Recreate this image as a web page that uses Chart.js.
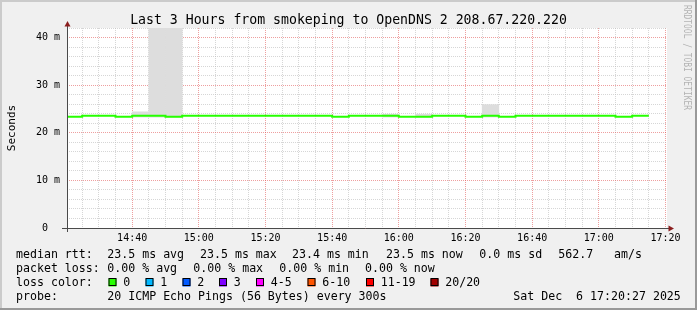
<!DOCTYPE html>
<html><head><meta charset="utf-8">
<script src="https://cdn.jsdelivr.net/npm/chart.js@4.4.1/dist/chart.umd.min.js"></script>
<style>html,body{margin:0;padding:0;background:#f0f0f0;overflow:hidden}canvas{display:block}</style>
</head><body>
<canvas id="c" width="697" height="310"></canvas>
<script>
// ---------- data ----------
const titleText = "Last 3 Hours from smokeping to OpenDNS 2 208.67.220.220";
const yAxisTitle = "Seconds";
const watermark = "RRDTOOL / TOBI OETIKER";
const startTime = "14:20:27";
const endTime = "17:20:27";
const dataEnd = "17:15";
const slotStarts = ["14:20","14:25","14:30","14:35","14:40","14:45","14:50","14:55",
  "15:00","15:05","15:10","15:15","15:20","15:25","15:30","15:35","15:40","15:45","15:50","15:55",
  "16:00","16:05","16:10","16:15","16:20","16:25","16:30","16:35","16:40","16:45","16:50","16:55",
  "17:00","17:05","17:10"];
// median rtt in ms
const medianRtt = [23.38,23.55,23.55,23.38,23.55,23.55,23.38,23.55,
  23.55,23.55,23.55,23.55,23.55,23.55,23.55,23.55,23.38,23.55,23.55,23.55,
  23.38,23.38,23.55,23.55,23.38,23.55,23.38,23.55,23.55,23.55,23.55,23.55,
  23.55,23.38,23.55];
// smoke (min / max ping) in ms, null where not visible
const smokeLow = [null,null,null,null,23.3,23.3,23.3,null,
  null,null,null,null,null,null,null,null,null,null,null,23.3,
  null,23.3,null,null,null,23.3,null,null,null,null,null,null,
  null,null,null];
const smokeHigh = [null,null,null,null,24.4,58,58,null,
  null,null,null,null,null,null,null,null,null,null,null,23.9,
  null,23.9,null,null,null,25.9,null,null,null,null,null,null,
  null,null,null];
const yMax = 42;
const yTicks = [0,10,20,30,40];
const yTickLabels = ["0  ","10 m","20 m","30 m","40 m"];
const xTickLabels = ["14:40","15:00","15:20","15:40","16:00","16:20","16:40","17:00","17:20"];
const statsRttLabel = "median rtt:";
const statsRtt = ["23.5 ms avg","23.5 ms max","23.4 ms min","23.5 ms now","0.0 ms sd","562.7","am/s"];
const statsLossLabel = "packet loss:";
const statsLoss = ["0.00 % avg","0.00 % max","0.00 % min","0.00 % now"];
const lossLabel = "loss color:";
const lossLabels = ["0","1","2","3","4-5","6-10","11-19","20/20"];
const lossColors = ["#26ff00","#00b8ff","#0059ff","#7e00ff","#ff00ff","#ff5500","#ff0000","#a10000"];
const probeLabel = "probe:";
const probeText = "20 ICMP Echo Pings (56 Bytes) every 300s";
const dateText = "Sat Dec  6 17:20:27 2025";

// ---------- helpers ----------
const MONO = '"DejaVu Sans Mono", monospace';
function toSec(s){const p=s.split(':').map(Number);return p[0]*3600+p[1]*60+(p[2]||0);}
const T0 = toSec(startTime);
const rel = s => toSec(s) - T0;
const xMax = rel(endTime);
const STEP = 300;
function fmt(v){const t=Math.round(v+T0);const h=Math.floor(t/3600),m=Math.floor((t%3600)/60);return String(h).padStart(2,'0')+':'+String(m).padStart(2,'0');}
const gridX = [];
for (let t = Math.ceil(T0/STEP)*STEP - T0; t <= xMax; t += STEP) gridX.push(t);
const gridY = [];
for (let v = 0; v <= yMax; v += 2) gridY.push(v);
const MAJ = 'rgba(224,80,80,0.55)';
const MIN = 'rgba(186,186,186,0.6)';

const lineData = slotStarts.map((s,i)=>({x: rel(s), y: medianRtt[i]}));
lineData.push({x: rel(dataEnd), y: medianRtt[medianRtt.length-1]});
const smokeData = [];
slotStarts.forEach((s,i)=>{ if (smokeHigh[i]!=null) smokeData.push({x: rel(s)+STEP/2, y:[smokeLow[i], smokeHigh[i]]}); });

const deco = {
  id: 'deco',
  beforeDraw(chart){
    const ctx = chart.ctx, W = chart.width, H = chart.height, a = chart.chartArea;
    ctx.save();
    ctx.fillStyle = '#f0f0f0'; ctx.fillRect(0,0,W,H);
    ctx.fillStyle = '#cbcbcb'; ctx.fillRect(0,0,W,2); ctx.fillRect(0,0,2,H);
    ctx.fillStyle = '#999999'; ctx.fillRect(0,H-2,W,2); ctx.fillRect(W-2,0,2,H);
    ctx.fillStyle = '#ffffff'; ctx.fillRect(a.left,a.top,a.right-a.left,a.bottom-a.top);
    ctx.restore();
  },
  afterDraw(chart){
    const ctx = chart.ctx, a = chart.chartArea;
    ctx.save();
    // axes
    ctx.strokeStyle = '#4a4a4a'; ctx.lineWidth = 1;
    ctx.beginPath();
    ctx.moveTo(a.left+0.5, a.bottom+4); ctx.lineTo(a.left+0.5, a.top-3);
    ctx.moveTo(a.left-5, a.bottom+0.5); ctx.lineTo(a.right+2, a.bottom+0.5);
    ctx.stroke();
    ctx.fillStyle = '#8b1e1e';
    ctx.beginPath();
    ctx.moveTo(a.left+0.5, a.top-7); ctx.lineTo(a.left-2.5, a.top-1.5); ctx.lineTo(a.left+3.5, a.top-1.5); ctx.closePath(); ctx.fill();
    ctx.beginPath();
    ctx.moveTo(a.right+7, a.bottom+0.5); ctx.lineTo(a.right+1.5, a.bottom-2.5); ctx.lineTo(a.right+1.5, a.bottom+3.5); ctx.closePath(); ctx.fill();
    // title
    ctx.fillStyle = '#000';
    ctx.textBaseline = 'alphabetic';
    ctx.font = '13.2px ' + MONO; ctx.textAlign = 'center';
    ctx.fillText(titleText, chart.width/2, 24);
    // y title
    ctx.save(); ctx.translate(15, (a.top+a.bottom)/2); ctx.rotate(-Math.PI/2);
    ctx.font = '11px ' + MONO; ctx.textAlign = 'center'; ctx.fillText(yAxisTitle, 0, 0); ctx.restore();
    // watermark
    ctx.save(); ctx.translate(684, 5); ctx.rotate(Math.PI/2);
    ctx.font = '10px ' + MONO; ctx.textAlign = 'left';
    const ww = ctx.measureText(watermark).width; ctx.scale(105/ww, 1);
    ctx.fillStyle = '#b4b4b4'; ctx.fillText(watermark, 0, 0); ctx.restore();
    // legend
    ctx.font = '11.6px ' + MONO; ctx.textAlign = 'left'; ctx.fillStyle = '#000';
    ctx.fillText(statsRttLabel, 16, 258);
    const rx = [107.3,200,292,386,479.3,558.3,614];
    statsRtt.forEach((s,i)=>ctx.fillText(s, rx[i], 258));
    ctx.fillText(statsLossLabel, 16, 272);
    const lx = [107.3,193.3,279.3,365];
    statsLoss.forEach((s,i)=>ctx.fillText(s, lx[i], 272));
    ctx.fillText(lossLabel, 16, 286);
    const bx = [108.5,145.5,182.5,219,256,307.5,366,430.5];
    lossLabels.forEach((s,i)=>{
      ctx.fillStyle = lossColors[i]; ctx.fillRect(bx[i], 278.5, 8, 8);
      ctx.strokeStyle = '#000'; ctx.strokeRect(bx[i]+0.5, 278.5, 7, 7);
      ctx.fillStyle = '#000'; ctx.fillText(s, bx[i]+14.7, 286);
    });
    ctx.fillText(probeLabel, 16, 300);
    ctx.fillText(probeText, 107.3, 300);
    ctx.fillText(dateText, 513.3, 300);
    ctx.restore();
  }
};

new Chart(document.getElementById('c'), {
  type: 'line',
  data: { datasets: [
    { type:'line', data: lineData, borderColor:'#26ff00', borderWidth:2, pointRadius:0, stepped:'before', fill:false, order:0, clip:0, borderCapStyle:'butt' },
    { type:'bar', data: smokeData, backgroundColor:'#dddddd', borderWidth:0, barPercentage:1, categoryPercentage:1, grouped:false, order:1, clip:0 }
  ]},
  options: {
    responsive:false, animation:false, devicePixelRatio:1,
    layout:{ padding:{ left:0, right:30, top:28, bottom:0 } },
    plugins:{ legend:{display:false}, tooltip:{enabled:false}, title:{display:false} },
    scales:{
      x:{ type:'linear', min:0, max:xMax, bounds:'data', offset:false,
        afterBuildTicks: s => { s.ticks = gridX.map(v=>({value:v})); },
        afterFit: s => { s.height = 82; },
        ticks:{ autoSkip:false, maxRotation:0, minRotation:0, padding:4, color:'#000', font:{family:MONO, size:10},
          callback: v => { const l = fmt(v); return xTickLabels.includes(l) ? l : ''; } },
        grid:{ drawTicks:false, offset:false, lineWidth:1, color: c => (c.tick && xTickLabels.includes(fmt(c.tick.value))) ? MAJ : MIN },
        border:{ display:false, dash:[1,1] } },
      y:{ type:'linear', min:0, max:yMax, bounds:'data',
        afterBuildTicks: s => { s.ticks = gridY.map(v=>({value:v})); },
        afterFit: s => { s.width = 67; },
        ticks:{ autoSkip:false, padding:7, color:'#000', font:{family:MONO, size:10},
          callback: v => { const i = yTicks.indexOf(v); return i >= 0 ? yTickLabels[i] : ''; } },
        grid:{ drawTicks:false, lineWidth:1, color: c => (c.tick && c.tick.value % 10 === 0) ? MAJ : MIN },
        border:{ display:false, dash:[1,1] } }
    }
  },
  plugins:[deco]
});
</script>
</body></html>
